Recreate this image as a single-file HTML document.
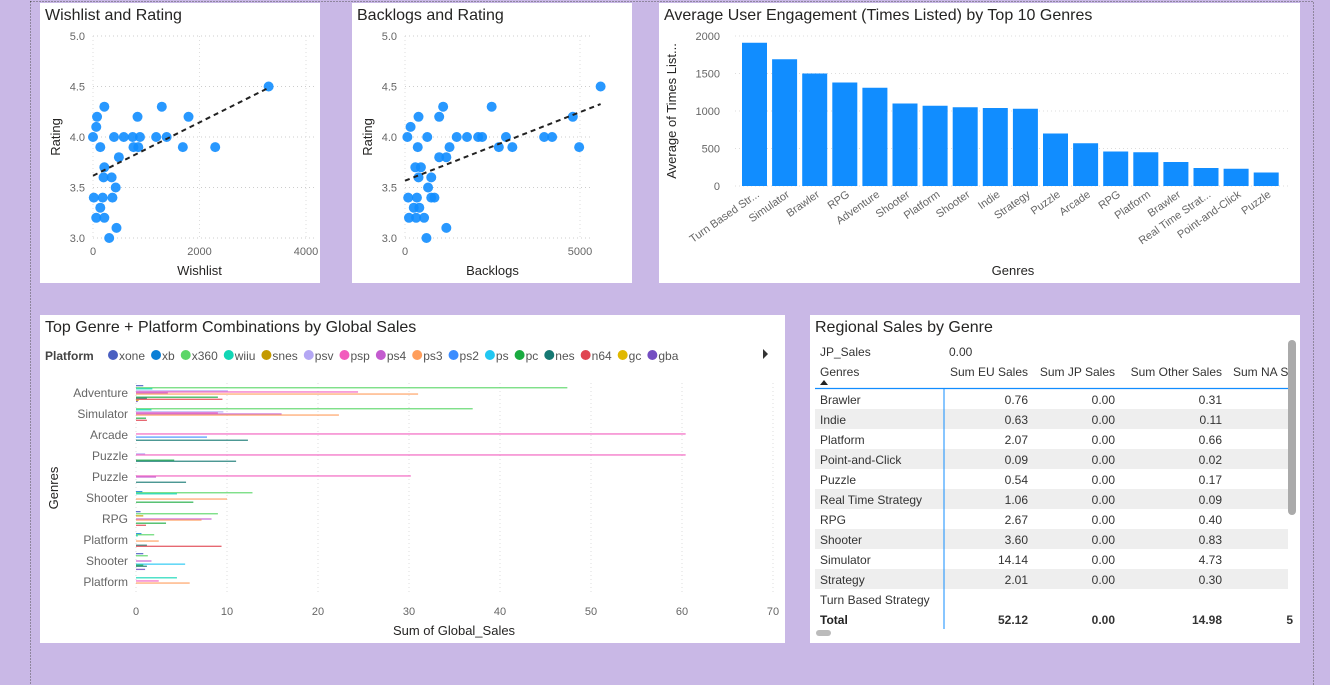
<!DOCTYPE html>
<html><head><meta charset="utf-8"><style>
body{margin:0;width:1330px;height:685px;background:#c9b8e6;overflow:hidden;font-family:"Segoe UI","Liberation Sans","DejaVu Sans",sans-serif;}
svg{position:absolute;left:0;top:0}
text{font-family:"Liberation Sans","DejaVu Sans",sans-serif}
</style></head><body>
<svg id="s" width="1330" height="685"></svg>
<script>
// ---- data ----
const wlX=[0,61,76,213,137,213,198,350,426,182,15,365,137,61,213,441,304,486,395,578,745,882,760,851,836,1186,1383,1292,1687,1794,2295,3298];
const wlY=[4.0,4.1,4.2,4.3,3.9,3.7,3.6,3.6,3.5,3.4,3.4,3.4,3.3,3.2,3.2,3.1,3.0,3.8,4.0,4.0,4.0,4.0,3.9,3.9,4.2,4.0,4.0,4.3,3.9,4.2,3.9,4.5];
const blX=[68,159,386,1090,977,636,364,295,454,386,750,659,91,341,750,841,250,409,114,318,545,1181,613,977,1181,1272,1477,1772,2090,2204,2476,2681,2885,3067,3976,4203,4794,4976,5589];
const blY=[4.0,4.1,4.2,4.3,4.2,4.0,3.9,3.7,3.7,3.6,3.6,3.5,3.4,3.4,3.4,3.4,3.3,3.3,3.2,3.2,3.2,3.1,3.0,3.8,3.8,3.9,4.0,4.0,4.0,4.0,4.3,3.9,4.0,3.9,4.0,4.0,4.2,3.9,4.5];
const genres=["Turn Based Str...","Simulator","Brawler","RPG","Adventure","Shooter","Platform","Shooter","Indie","Strategy","Puzzle","Arcade","RPG","Platform","Brawler","Real Time Strat...","Point-and-Click","Puzzle"];
const engagement=[1910,1690,1500,1380,1310,1100,1070,1050,1040,1030,700,570,460,450,320,240,230,180];
const platforms=["xone","xb","x360","wiiu","snes","psv","psp","ps4","ps3","ps2","ps","pc","nes","n64","gc","gba"];
const platColors=["#4a5fc1","#0a7fd6","#5bd667","#11d6b5","#c49a00","#b4a7f4","#f25cbd","#c35bcf","#ff9e5c","#3c8dff","#21c7f2","#1aab40","#157873","#e04450","#e0b800","#744ec2"];
const comboCats=["Adventure","Simulator","Arcade","Puzzle","Puzzle","Shooter","RPG","Platform","Shooter","Platform"];
const comboAdventure=[0.8,0,47.4,1.8,0,10.1,24.4,3.5,31,0,0,9,1.2,9.5,0.3,0.2];
const comboSimulator=[0,0,37,1.7,0,9.6,9,16,22.3,0,0,1.1,0,1.2,0,0];
const comboArcade=[0,0,0,0,0,0,60.4,0,0,7.8,0,0,12.3,0,0,0];
const comboPuzzle1=[0,0,0,0,0,1,60.4,0,0,0,0,4.2,11,0,0,0];
const comboPuzzle2=[0,0,0,0,0,0,30.2,2.2,0,0,0,0,5.5,0,0,0];
const comboShooter1=[0,0.7,12.8,4.5,0,0,0,0,10,0,0,6.3,0,0,0,0];
const comboRPG=[0.5,0,9,0,0.8,0,0,8.3,7.2,0,0,3.3,0,1.1,0,0];
const comboPlatform1=[0,0.6,2,0.2,0,0,0,0,2.5,0,0,0,1.2,9.4,0,0];
const comboShooter2=[0.8,0,1.3,0,0,0,0,1.7,0,0,5.4,0.8,1.2,0,0,1.0];
const comboPlatform2=[0,0,0,4.5,0,0,2.5,0,5.9,0,0,0,0,0,0,0];
const comboRows=[comboAdventure,comboSimulator,comboArcade,comboPuzzle1,comboPuzzle2,comboShooter1,comboRPG,comboPlatform1,comboShooter2,comboPlatform2];
const xTicks=[0,10,20,30,40,50,60,70];
const tblGenres=["Brawler","Indie","Platform","Point-and-Click","Puzzle","Real Time Strategy","RPG","Shooter","Simulator","Strategy","Turn Based Strategy"];
const tblEU=["0.76","0.63","2.07","0.09","0.54","1.06","2.67","3.60","14.14","2.01",""];
const tblJP=["0.00","0.00","0.00","0.00","0.00","0.00","0.00","0.00","0.00","0.00",""];
const tblOther=["0.31","0.11","0.66","0.02","0.17","0.09","0.40","0.83","4.73","0.30",""];

const S=document.getElementById('s');const NS='http://www.w3.org/2000/svg';
function el(t,a,p){const e=document.createElementNS(NS,t);for(const k in a)e.setAttribute(k,a[k]);(p||S).appendChild(e);return e;}
function tx(x,y,s,a,p){const e=el('text',Object.assign({x:x,y:y},a),p);e.textContent=s;return e;}

// dotted frame
el('rect',{x:30.5,y:1.5,width:1283,height:690,fill:'none',stroke:'#555','stroke-dasharray':'1,2'});

function panel(x,y,w,h,name,title){
  const g=el('g',{});
  el('rect',{x:x,y:y,width:w,height:h,fill:'#fff'},g);
  const t=tx(x+5,y+17,title,{'font-size':16,fill:'#252423'},g);
  
  return g;
}

function scatter(px,name,title,xl,X,Y,x0,x1,xmax,ticks){
  const g=panel(px,3,280,280,name,title);
  const sx=v=>x0+(v/xmax)*(x1-x0), sy=v=>238-(v-3)/2*202;
  [3,3.5,4,4.5,5].forEach(v=>{el('line',{x1:x0,x2:x1+10,y1:sy(v),y2:sy(v),stroke:'#ccc','stroke-dasharray':'1,3'},g);
    tx(x0-8,sy(v)+4,v.toFixed(1),{'font-size':11,fill:'#666','text-anchor':'end'},g);});
  ticks.forEach(v=>{el('line',{x1:sx(v),x2:sx(v),y1:36,y2:238,stroke:'#ddd','stroke-dasharray':'1,3'},g);
    tx(sx(v),255,String(v),{'font-size':11,fill:'#666','text-anchor':'middle'},g);});
  tx(sx(xmax/2),275,xl,{'font-size':13,fill:'#252423','text-anchor':'middle'},g);
  tx(0,0,'Rating',{'font-size':13,fill:'#252423','text-anchor':'middle',transform:`translate(${x0-33},137) rotate(-90)`},g);
  X.forEach((v,i)=>{const c=el('circle',{cx:sx(v),cy:sy(Y[i]),r:5,fill:'#118dff',opacity:0.9},g);
    });
  const n=X.length,mx=X.reduce((a,b)=>a+b)/n,my=Y.reduce((a,b)=>a+b)/n;let sxy=0,sxx=0;
  X.forEach((v,i)=>{sxy+=(v-mx)*(Y[i]-my);sxx+=(v-mx)*(v-mx);});const b=sxy/sxx,a=my-b*mx;const xm=Math.max(...X);
  const tl=el('line',{x1:sx(0),y1:sy(a),x2:sx(xm),y2:sy(a+b*xm),stroke:'#222','stroke-width':2,'stroke-dasharray':'5,4'},g);
  
}
scatter(40,'wishlist-rating-chart','Wishlist and Rating','Wishlist',wlX,wlY,93,306,4000,[0,2000,4000]);
scatter(352,'backlogs-rating-chart','Backlogs and Rating','Backlogs',blX,blY,405,580,5000,[0,5000]);

// bar chart
(function(){
  const g=panel(659,3,641,280,'engagement-bar-chart','Average User Engagement (Times Listed) by Top 10 Genres');
  const sy=v=>186-v/2000*150;
  [0,500,1000,1500,2000].forEach(v=>{el('line',{x1:735,x2:1290,y1:sy(v),y2:sy(v),stroke:'#ddd','stroke-dasharray':'1,3'},g);
    tx(720,sy(v)+4,String(v),{'font-size':11,fill:'#666','text-anchor':'end'},g);});
  const pitch=30.1,x0=742;
  engagement.forEach((v,i)=>{const r=el('rect',{x:x0+i*pitch,y:sy(v),width:25,height:186-sy(v),fill:'#118dff'},g);
    
    tx(0,0,genres[i],{'font-size':11,fill:'#666','text-anchor':'end',transform:`translate(${x0+i*pitch+18},196) rotate(-35)`},g);});
  tx(1013,275,'Genres',{'font-size':13,fill:'#252423','text-anchor':'middle'},g);
  tx(0,0,'Average of Times List...',{'font-size':13,fill:'#252423','text-anchor':'middle',transform:'translate(676,111) rotate(-90)'},g);
})();

// combo chart
(function(){
  const g=panel(40,315,745,328,'genre-platform-chart','Top Genre + Platform Combinations by Global Sales');
  tx(45,360,'Platform',{'font-size':12,'font-weight':'bold',fill:'#444'},g);
  let lx=108;
  platforms.forEach((p,i)=>{const c=el('circle',{cx:lx+5,cy:355,r:5,fill:platColors[i]},g);
    
    const t=tx(lx+11,360,p,{'font-size':12,fill:'#555'},g);lx+=11+t.getComputedTextLength()+6;});
  el('path',{d:'M763,349 L768,354 L763,359Z',fill:'#333'},g);
  const sx=v=>136+v/70*637;
  xTicks.forEach(v=>{el('line',{x1:sx(v),x2:sx(v),y1:383,y2:595,stroke:'#ddd','stroke-dasharray':'1,3'},g);
    tx(sx(v),615,String(v),{'font-size':11,fill:'#666','text-anchor':'middle'},g);});
  tx(454,635,'Sum of Global_Sales',{'font-size':13,fill:'#252423','text-anchor':'middle'},g);
  tx(0,0,'Genres',{'font-size':13,fill:'#252423','text-anchor':'middle',transform:'translate(58,488) rotate(-90)'},g);
  comboRows.forEach((row,r)=>{const cy=393+r*21;
    tx(128,cy+4,comboCats[r],{'font-size':12,fill:'#666','text-anchor':'end'},g);
    row.forEach((v,i)=>{if(!v)return;const b=el('rect',{x:136,y:cy-8+i*1.05,width:sx(v)-136,height:1.3,fill:platColors[i],opacity:0.85},g);
      });});
})();

// table
(function(){
  const g=panel(810,315,490,328,'regional-sales-table','Regional Sales by Genre');
  const f={'font-size':12,fill:'#333'};
  tx(820,356,'JP_Sales',f,g);tx(949,356,'0.00',f,g);
  tx(820,376,'Genres',f,g);el('path',{d:'M820,385 L824,380 L828,385Z',fill:'#222'},g);
  const cols=[[1028,'Sum EU Sales'],[1115,'Sum JP Sales'],[1222,'Sum Other Sales']];
  cols.forEach(c=>tx(c[0],376,c[1],Object.assign({'text-anchor':'end'},f),g));
  tx(1233,376,'Sum NA S',f,g);
  tblGenres.forEach((gn,i)=>{const y=389+i*20;
    if(i%2==1)el('rect',{x:815,y:y,width:473,height:20,fill:'#eeeeee'},g);
    const row=el('g',{},g);
    tx(820,y+15,gn,f,row);
    tx(1028,y+15,tblEU[i],Object.assign({'text-anchor':'end'},f),row);
    tx(1115,y+15,tblJP[i],Object.assign({'text-anchor':'end'},f),row);
    tx(1222,y+15,tblOther[i],Object.assign({'text-anchor':'end'},f),row);});
  el('line',{x1:815,x2:1288,y1:388.5,y2:388.5,stroke:'#118dff','stroke-width':1.3},g);
  el('line',{x1:944,x2:944,y1:389,y2:629,stroke:'#118dff','stroke-width':1},g);
  const b=Object.assign({'text-anchor':'end','font-weight':'bold'},f);
  tx(820,624,'Total',{'font-size':12,fill:'#222','font-weight':'bold'},g);
  tx(1028,624,'52.12',b,g);tx(1115,624,'0.00',b,g);tx(1222,624,'14.98',b,g);tx(1293,624,'5',b,g);
  el('rect',{x:1288,y:340,width:8,height:175,rx:4,fill:'#aaa'},g);
  el('rect',{x:816,y:630,width:15,height:6,rx:3,fill:'#bbb'},g);
})();
</script>
</body></html>
